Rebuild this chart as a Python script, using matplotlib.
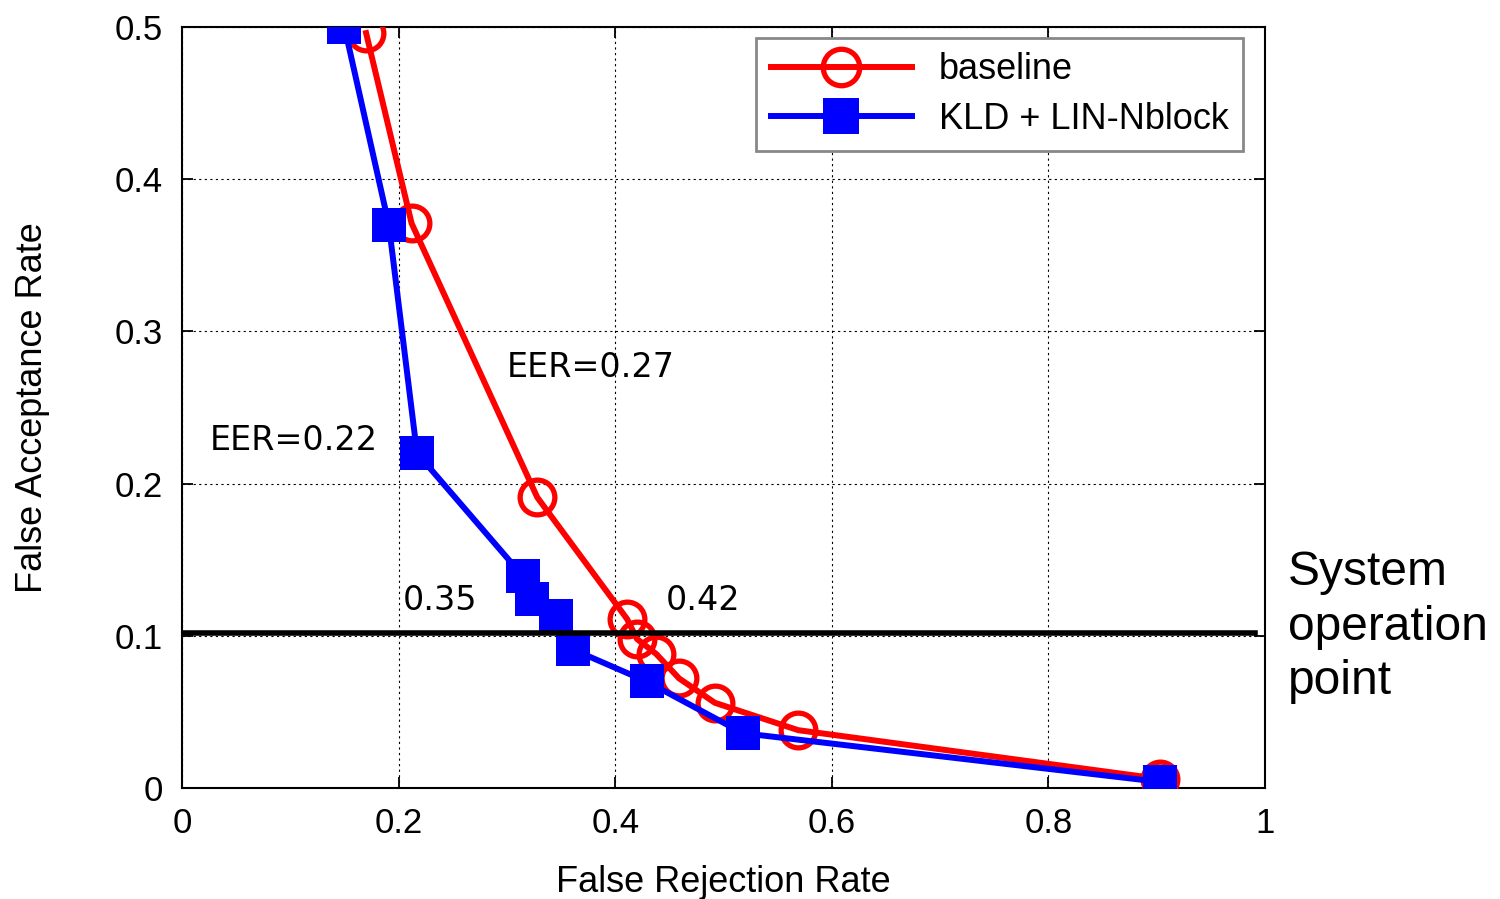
import matplotlib
matplotlib.use("Agg")
import matplotlib.pyplot as plt

# Data
baseline_frr = [0.170, 0.212, 0.328, 0.411, 0.420, 0.438, 0.459, 0.492, 0.569, 0.903]
baseline_far = [0.496, 0.371, 0.191, 0.111, 0.098, 0.088, 0.072, 0.056, 0.038, 0.006]
kld_frr = [0.150, 0.191, 0.217, 0.315, 0.323, 0.345, 0.361, 0.429, 0.518, 0.903]
kld_far = [0.500, 0.370, 0.220, 0.139, 0.124, 0.113, 0.091, 0.070, 0.036, 0.004]
xticks = [0, 0.2, 0.4, 0.6, 0.8, 1]
xtick_labels = ["0", "0.2", "0.4", "0.6", "0.8", "1"]
yticks = [0, 0.1, 0.2, 0.3, 0.4, 0.5]
ytick_labels = ["0", "0.1", "0.2", "0.3", "0.4", "0.5"]
operation_far = 0.102

plt.rcParams['font.family'] = ['Liberation Sans', 'DejaVu Sans']

fig = plt.figure(figsize=(15, 8.99), dpi=100)
ax = fig.add_axes([182/1500, 1-788/899, (1265-182)/1500, (788-27)/899])

ax.plot(baseline_frr, baseline_far, color='#ff0000', lw=4.3, marker='o',
        markersize=25, markerfacecolor='none', markeredgewidth=3.8,
        markeredgecolor='#ff0000', label='baseline', zorder=3)
ax.plot(kld_frr, kld_far, color='#0000ff', lw=4.3, marker='s',
        markersize=25, markerfacecolor='#0000ff', markeredgewidth=0,
        label='KLD + LIN-Nblock', zorder=4)

ax.axhline(operation_far, xmin=0, xmax=0.991, color='black', lw=4, zorder=5)

ax.set_xlim(0, 1)
ax.set_ylim(0, 0.5)
ax.set_xticks(xticks)
ax.set_xticklabels(xtick_labels)
ax.set_yticks(yticks)
ax.set_yticklabels(ytick_labels)
ax.tick_params(direction='in', top=True, right=True, length=8, width=1.3,
               labelsize=25)
ax.tick_params(axis='x', pad=14)
ax.tick_params(axis='y', pad=14)
ax.grid(True, color='black', linestyle=(0, (2, 3)), lw=0.8)
for s in ax.spines.values():
    s.set_linewidth(1.5)

ax.set_xlabel('False Rejection Rate', fontsize=26, labelpad=18)
ax.set_ylabel('False Acceptance Rate', fontsize=26, labelpad=46)

leg = ax.legend(loc='upper right', bbox_to_anchor=(1 - 22/1083, 1 - 11/761),
                borderaxespad=0, fontsize=26, handlelength=3.9,
                fancybox=False, framealpha=1, edgecolor='#888888',
                borderpad=0.4, labelspacing=0.4, handletextpad=0.75,
                markerscale=1.05)
leg.get_frame().set_linewidth(2)

ann_font = ['DejaVu Sans']
ax.text(0.300, 0.276, 'EER=0.27', fontsize=24, family=ann_font, va='center', ha='left', zorder=6)
ax.text(0.026, 0.228, 'EER=0.22', fontsize=24, family=ann_font, va='center', ha='left', zorder=6)
ax.text(0.204, 0.123, '0.35', fontsize=24, family=ann_font, va='center', ha='left', zorder=6)
ax.text(0.447, 0.123, '0.42', fontsize=24, family=ann_font, va='center', ha='left', zorder=6)

fig.text(1288/1500, 1 - 627/899, 'System\noperation\npoint', fontsize=34.5,
         va='center', ha='left', linespacing=1.27)

fig.savefig('out.png', dpi=100)
